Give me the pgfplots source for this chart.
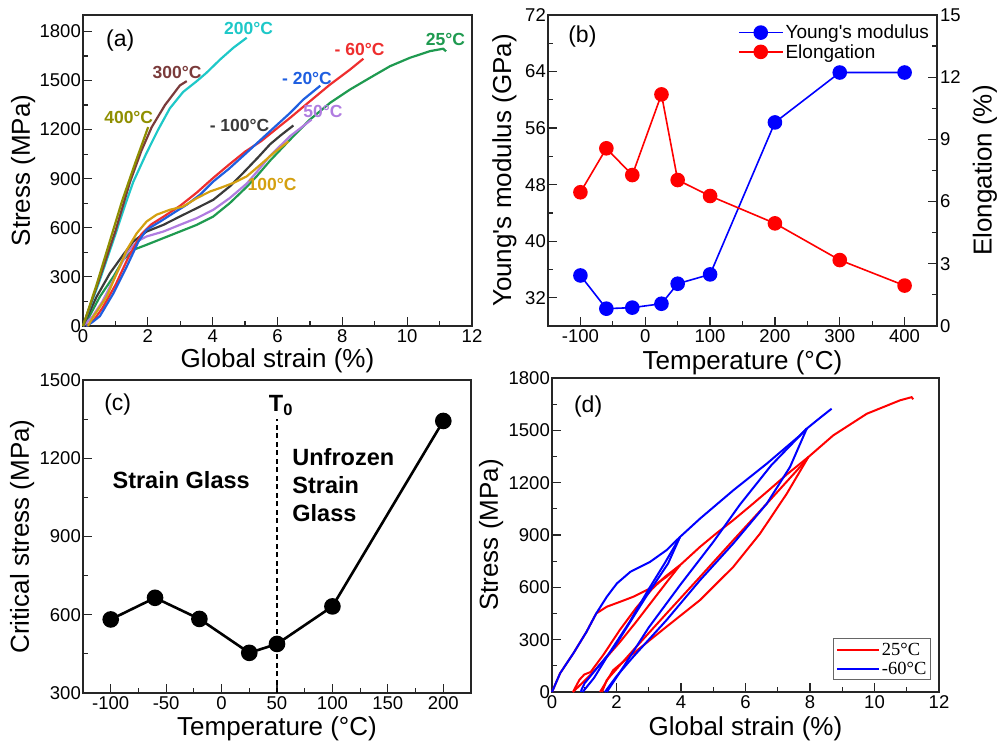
\documentclass[border=0pt]{standalone}
\usepackage{pgfplots}
\pgfplotsset{compat=1.18}
\usepackage{fontspec}
\setmainfont{Liberation Sans}
\newfontfamily\timesfont{Liberation Serif}

\definecolor{ccyan}{HTML}{1EC8C8}
\definecolor{cbrown}{HTML}{7A3B3B}
\definecolor{colive}{HTML}{8F8F00}
\definecolor{cred}{HTML}{EE2E2E}
\definecolor{cblue}{HTML}{1F5FE0}
\definecolor{cgreen}{HTML}{1F9A50}
\definecolor{cpurple}{HTML}{B07CE0}
\definecolor{cgray}{HTML}{3A3A3A}
\definecolor{corange}{HTML}{D4A010}

\pgfplotsset{
  panel/.style={
    scale only axis,
    anchor=south west,
    clip=false,
    axis line style={line width=1.3pt, black!85},
    every tick/.style={line width=1.2pt, black!85},
    major tick length=9pt, minor tick length=5pt,
    tick align=inside,
    tick label style={font=\fontsize{18.5}{18.5}\selectfont},
    /pgf/number format/assume math mode=true,
    /pgf/number format/1000 sep={},
    label style={font=\fontsize{26}{26}\selectfont},
    yticklabel style={inner xsep=2pt},
  },
}
\tikzset{tlab/.style={font=\bfseries\fontsize{17.5}{17.5}\selectfont, anchor=center},
  plab/.style={font=\fontsize{23}{23}\selectfont},
  ctxt/.style={font=\bfseries\fontsize{23.5}{23.5}\selectfont, anchor=base west, inner sep=0pt},
  ca/.style={line width=2.2pt}, cd/.style={line width=2pt}}

\begin{document}
\begin{tikzpicture}
\useasboundingbox (0pt,0pt) rectangle (998pt,745pt);

% ---------------- (a) ----------------
\begin{axis}[panel, at={(83pt,419pt)}, width=389pt, height=311pt,
  xmin=0, xmax=12, ymin=0, ymax=1900,
  xtick={0,2,...,12}, ytick={0,300,...,1800},
  minor x tick num=1, minor y tick num=1, tick pos=left,
  xlabel={Global strain (\%)}, ylabel={Stress (MPa)},
  xlabel style={at={(axis description cs:0.5,-0.112)}, anchor=center},
  ylabel style={at={(axis description cs:-0.154,0.5)}, anchor=center}]
\addplot[cgreen, ca] coordinates {(0,0) (0.2,60) (0.52,179) (0.94,302) (1.24,404) (1.55,465) (1.96,496) (2.48,537) (2.99,577) (3.51,618) (4.02,669) (4.53,751) (5.05,850) (5.36,915) (5.77,1010) (6.39,1139) (7.0,1261) (7.62,1363) (8.24,1445) (8.85,1516) (9.47,1587) (10.09,1639) (10.70,1679) (11.11,1694) (11.2,1678)};
\addplot[cpurple, ca] coordinates {(0,0) (0.3,60) (0.6,150) (0.94,282) (1.35,445) (1.66,516) (1.96,547) (2.48,577) (2.99,618) (3.51,659) (4.02,710) (4.53,782) (5.05,870) (5.4,950) (5.77,1040) (6.39,1160) (7.05,1261)};
\addplot[cgray, ca] coordinates {(0,0) (0.42,179) (0.83,322) (1.24,435) (1.55,516) (1.96,577) (2.48,618) (2.99,669) (3.51,720) (4.02,771) (4.53,853) (4.94,935) (5.4,1030) (5.77,1110) (6.1,1165) (6.49,1225)};
\addplot[cred, ca] coordinates {(0.1,0) (0.35,40) (0.6,110) (1.0,250) (1.4,420) (1.8,560) (2.1,620) (2.5,670) (3.0,735) (3.51,815) (4.02,905) (4.5,985) (5.0,1065) (5.5,1130) (6.0,1210) (6.39,1272) (7.0,1373) (7.62,1475) (8.24,1567) (8.65,1633)};
\addplot[cblue, ca] coordinates {(0.1,0) (0.3,25) (0.52,60) (0.94,200) (1.35,363) (1.71,516) (1.96,588) (2.38,638) (2.79,690) (3.2,741) (3.61,802) (4.02,883) (4.5,960) (5.0,1050) (5.77,1190) (6.39,1302) (6.8,1384) (7.32,1468)};
\addplot[corange, ca] coordinates {(0.15,0) (0.32,57) (0.73,179) (1.04,322) (1.35,465) (1.66,567) (1.96,638) (2.27,680) (2.68,710) (3.09,730) (3.51,781) (3.92,822) (4.23,843) (4.64,874) (5.05,914) (5.5,990) (5.9,1060) (6.34,1128)};
\addplot[ccyan, ca] coordinates {(0,0) (0.5,270) (1.0,560) (1.3,740) (1.55,880) (1.96,1057) (2.32,1200) (2.68,1330) (3.09,1430) (3.51,1496) (3.81,1547) (4.23,1628) (4.64,1700) (5.05,1761)};
\addplot[cbrown, ca] coordinates {(0,0) (0.5,285) (1.0,580) (1.45,880) (1.8,1070) (2.12,1215) (2.53,1350) (2.99,1470) (3.20,1496)};
\addplot[colive, ca] coordinates {(0,0) (0.4,240) (0.8,500) (1.2,760) (1.6,990) (2.01,1215)};
\node[plab] at (axis cs:1.15,1745) {(a)};
\node[tlab, text=ccyan] at (axis cs:5.11,1820) {200°C};
\node[tlab, text=cbrown] at (axis cs:2.90,1549) {300°C};
\node[tlab, text=colive] at (axis cs:1.41,1276) {400°C};
\node[tlab, text=cred] at (axis cs:8.53,1688) {- 60°C};
\node[tlab, text=cblue] at (axis cs:6.91,1514) {- 20°C};
\node[tlab, text=cgreen] at (axis cs:11.18,1753) {25°C};
\node[tlab, text=cpurple] at (axis cs:7.40,1311) {50°C};
\node[tlab, text=cgray] at (axis cs:4.83,1223) {- 100°C};
\node[tlab, text=corange] at (axis cs:5.83,866) {100°C};
\end{axis}

% ---------------- (b) ----------------
\begin{axis}[panel, at={(548pt,419pt)}, width=389pt, height=311pt,
  xmin=-150, xmax=450, ymin=28, ymax=72,
  xtick={-100,0,...,400}, ytick={32,40,...,72},
  minor x tick num=1, minor y tick num=1, xtick pos=bottom, ytick pos=left,
  xlabel={Temperature (°C)}, ylabel={Young\textquotesingle s modulus (GPa)},
  xlabel style={at={(axis description cs:0.5,-0.118)}, anchor=center},
  ylabel style={at={(axis description cs:-0.112,0.5)}, anchor=center}]
\addplot[blue, line width=1.6pt, mark=*, mark size=6.5pt, mark options={solid, fill=blue}] coordinates {(-100,35.15) (-60,30.45) (-20,30.6) (25,31.15) (50,33.98) (100,35.3) (200,56.8) (300,63.86) (400,63.86)};
\node[plab] at (axis cs:-97,68.9) {(b)};
\end{axis}
\begin{axis}[panel, at={(548pt,419pt)}, width=389pt, height=311pt,
  xmin=-150, xmax=450, ymin=0, ymax=15,
  hide x axis, axis y line*=right, ytick pos=right, yticklabel pos=right,
  ytick={0,3,...,15}, minor y tick num=1,
  ylabel={Elongation (\%)},
  ylabel style={at={(axis description cs:1.123,0.5)}, anchor=center},
  yticklabel style={inner xsep=3pt},
  legend style={at={(rel axis cs:0.985,0.975)}, anchor=north east, draw=none, fill=none,
    font=\fontsize{19}{21}\selectfont, inner sep=0pt, row sep=0pt},
  legend cell align=left,
  legend image code/.code={\draw[mark repeat=2, mark phase=2, #1] plot coordinates {(0pt,0pt) (22pt,0pt) (44pt,0pt)};}]
\addlegendimage{blue, line width=1.6pt, mark=*, mark size=6.5pt, mark options={solid, fill=blue}}
\addlegendentry{Young\textquotesingle s modulus}
\addplot[red, line width=1.6pt, mark=*, mark size=6.5pt, mark options={solid, fill=red}] coordinates {(-100,6.45) (-60,8.57) (-20,7.28) (25,11.17) (50,7.04) (100,6.27) (200,4.95) (300,3.18) (400,1.95)};
\addlegendentry{Elongation}
\end{axis}

% ---------------- (c) ----------------
\begin{axis}[panel, at={(83pt,52pt)}, width=388pt, height=313pt,
  xmin=-125, xmax=225, ymin=300, ymax=1500,
  xtick={-100,-50,...,200}, ytick={300,600,...,1500},
  minor x tick num=1, minor y tick num=1, tick pos=left,
  xlabel={Temperature (°C)}, ylabel={Critical stress (MPa)},
  xlabel style={at={(axis description cs:0.5,-0.114)}, anchor=center},
  ylabel style={at={(axis description cs:-0.157,0.5)}, anchor=center}]
\addplot[black, line width=1.5pt, dash pattern=on 5pt off 3.5pt] coordinates {(50,300) (50,1352)};
\addplot[black, line width=2.6pt, mark=*, mark size=7pt, mark options={solid}] coordinates {(-100,582) (-60,665) (-20,584) (25,454) (50,488) (100,632) (200,1343)};
\node[plab] at (axis cs:-93.7,1404) {(c)};
\node[ctxt] at (axis cs:42.6,1378) {T\textsubscript{0}};
\node[ctxt] at (axis cs:-98.5,1085) {Strain Glass};
\node[ctxt] at (axis cs:63.7,1174) {Unfrozen};
\node[ctxt] at (axis cs:63.7,1063) {Strain};
\node[ctxt] at (axis cs:63.7,957) {Glass};
\end{axis}

% ---------------- (d) ----------------
\begin{axis}[panel, at={(552pt,53pt)}, width=387pt, height=314pt,
  xmin=0, xmax=12, ymin=0, ymax=1800,
  xtick={0,2,...,12}, ytick={0,300,...,1800},
  minor x tick num=1, minor y tick num=1, tick pos=left,
  xlabel={Global strain (\%)}, ylabel={Stress (MPa)},
  xlabel style={at={(axis description cs:0.5,-0.117)}, anchor=center},
  ylabel style={at={(axis description cs:-0.157,0.5)}, anchor=center},
  legend style={at={(rel axis cs:0.979,0.038)}, anchor=south east, draw=black!60, line width=1pt, fill=white,
    font=\timesfont\fontsize{18.5}{20}\selectfont, inner sep=2pt, row sep=1pt},
  legend cell align=left,
  legend image code/.code={\draw[#1] (0pt,0pt) -- (42pt,0pt);}]
% 25 C: initial loading to 4 %
\addplot[red, cd] coordinates {(0,0) (0.25,107) (0.66,221) (1.07,345) (1.37,450) (1.70,489) (2.11,517) (2.52,546) (3.04,594) (3.55,660) (3.97,727)};
\addlegendentry{25°C}
% -60 C: initial loading to 4 %
\addplot[blue, cd] coordinates {(0,0) (0.25,107) (0.66,221) (1.07,345) (1.37,450) (1.70,546) (2.01,622) (2.43,689) (3.04,746) (3.55,813) (3.97,889)};
\addlegendentry{-60°C}
% 25 C cycles
\addplot[red, cd, forget plot] coordinates {(3.97,727) (3.6,640) (3.1,520) (2.6,400) (2.1,285) (1.6,180) (1.2,100) (0.9,45) (0.65,0)};
\addplot[red, cd, forget plot] coordinates {(0.65,0) (0.85,70) (1.0,100) (1.2,115) (1.6,215) (2.1,355) (2.6,480) (3.1,590) (3.5,660) (3.97,727) (4.59,832) (5.1,910) (5.62,985) (6.14,1065) (6.66,1147) (7.3,1250) (7.95,1347)};
\addplot[red, cd, forget plot] coordinates {(7.95,1347) (7.28,1137) (6.45,908) (5.62,717) (4.59,527) (3.55,374) (2.52,221) (1.90,126) (1.49,0)};
\addplot[red, cd, forget plot] coordinates {(1.55,0) (1.70,69) (2.52,240) (3.55,450) (4.59,660) (5.62,870) (6.66,1080) (7.69,1290) (7.95,1347) (8.72,1471) (9.76,1595) (10.79,1672) (11.15,1690) (11.2,1678)};
% -60 C cycles
\addplot[blue, cd, forget plot] coordinates {(3.97,889) (3.60,737) (2.98,565) (2.46,412) (1.94,259) (1.43,145) (1.01,50) (0.91,11) (0.9,0)};
\addplot[blue, cd, forget plot] coordinates {(0.95,0) (1.3,80) (1.8,230) (2.4,400) (3.0,590) (3.5,740) (3.97,889) (4.59,994) (5.62,1156) (6.66,1309) (7.69,1471) (7.90,1510)};
\addplot[blue, cd, forget plot] coordinates {(7.90,1510) (7.38,1290) (6.66,1080) (5.62,851) (4.59,641) (3.55,412) (2.52,202) (2.0,90) (1.64,0)};
\addplot[blue, cd, forget plot] coordinates {(1.7,0) (2.2,140) (3.0,370) (4.0,620) (5.0,860) (5.83,1075) (6.8,1300) (7.90,1510) (8.3,1570) (8.67,1624)};
\node[plab] at (axis cs:1.12,1637) {(d)};
\end{axis}
\end{tikzpicture}
\end{document}
